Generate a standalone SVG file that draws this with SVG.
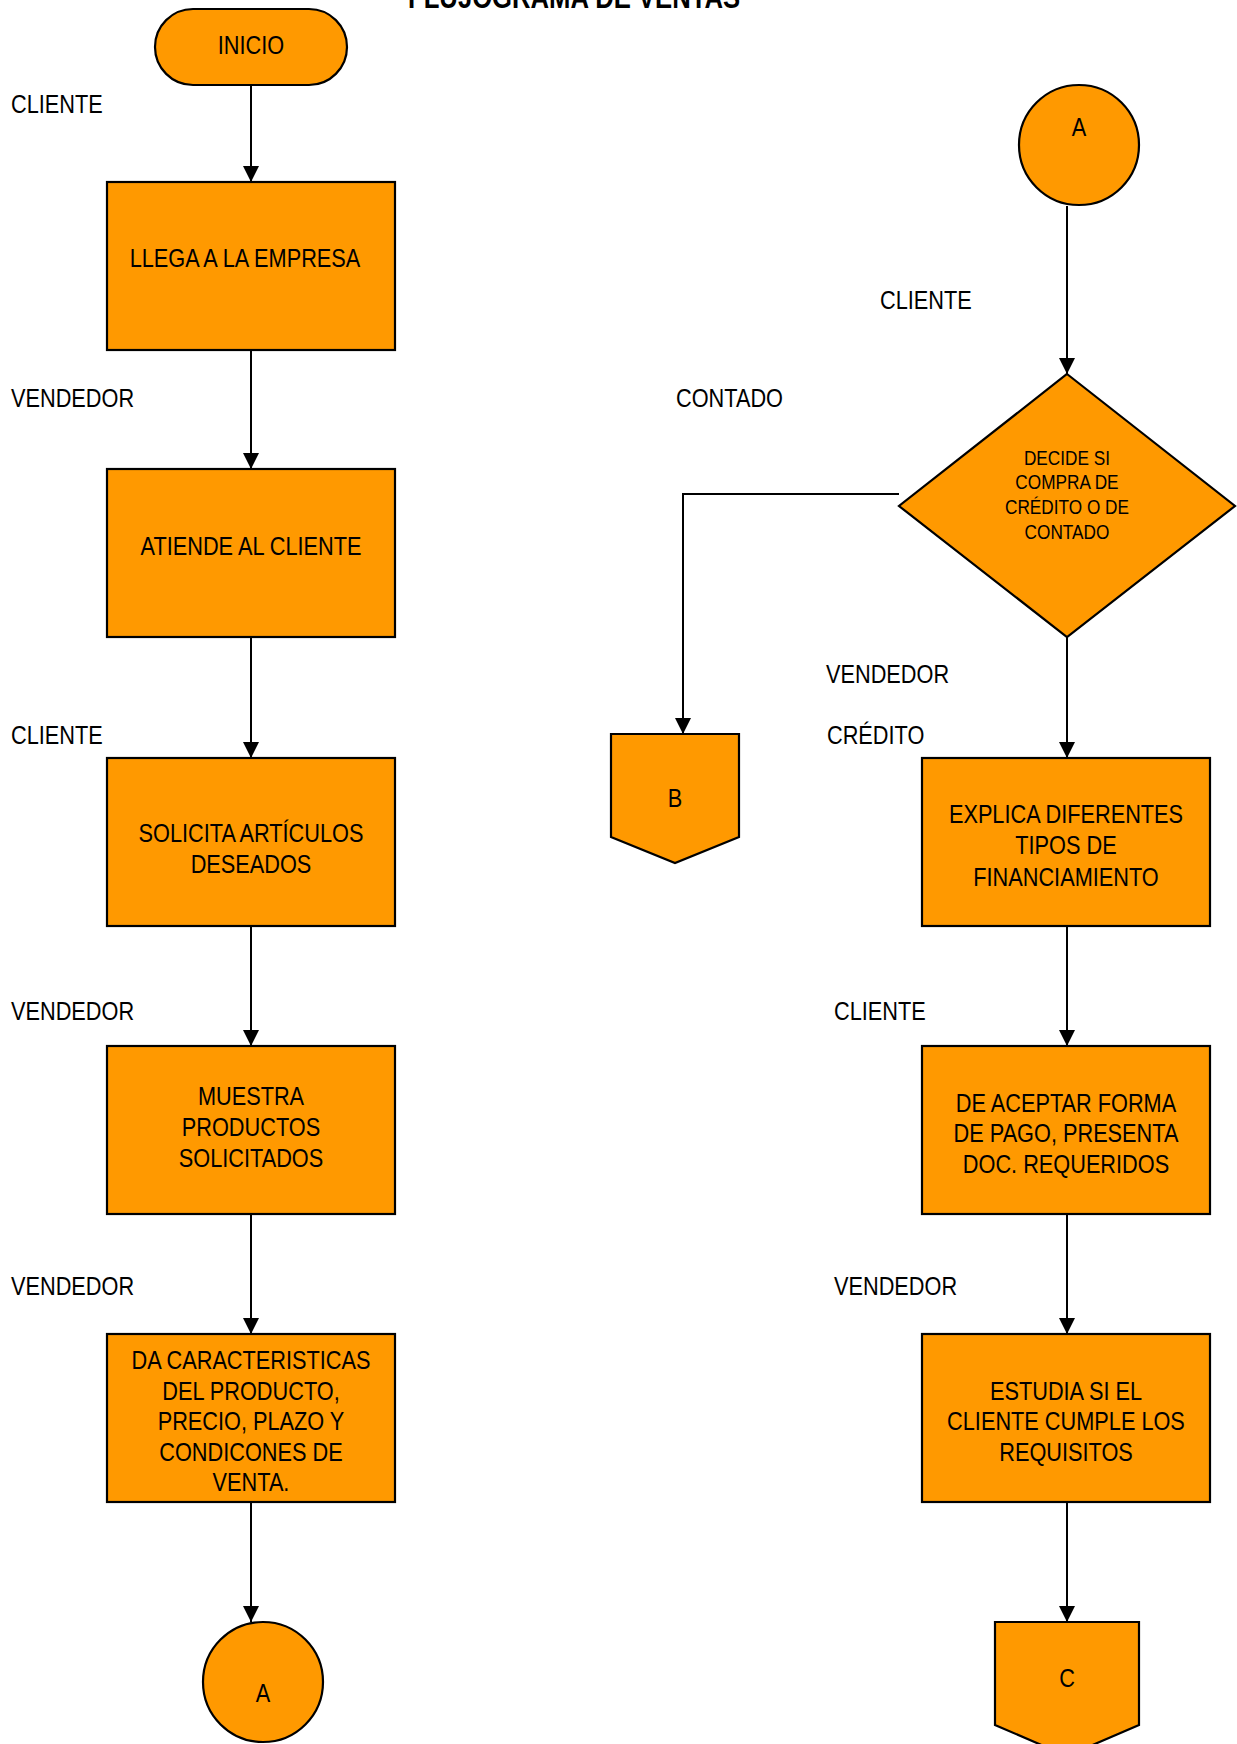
<svg xmlns="http://www.w3.org/2000/svg" width="1237" height="1744" viewBox="0 0 1237 1744">
  <style>
    .shape { fill: #FF9900; stroke: #000; stroke-width: 2.2; }
    .conn { fill: none; stroke: #000; stroke-width: 2; }
    /* condensed lettering: glyphs are squeezed to 82% width, so x positions are given in the squeezed space (x / 0.82) */
    text { font-family: "Liberation Sans Narrow", "Liberation Sans", Arial, sans-serif; fill: #000; transform: scale(0.82, 1); transform-origin: 0 0; transform-box: view-box; }
    .t { font-size: 26.5px; text-anchor: middle; }
    .ts { font-size: 21px; text-anchor: middle; }
    .lbl { font-size: 26.5px; }
    .title { font-size: 31.3px; font-weight: bold; }
  </style>
  <defs>
    <marker id="arrow" markerUnits="userSpaceOnUse" markerWidth="16" markerHeight="16" refX="16" refY="8" orient="auto">
      <path d="M0,0 L16,8 L0,16 z" fill="#000"/>
    </marker>
  </defs>

  <rect width="1237" height="1744" fill="#fff"/>

  <text class="title" x="497.6" y="8">FLUJOGRAMA DE VENTAS</text>

  <!-- role labels -->
  <g id="labels">
    <text class="lbl" x="13.4" y="113">CLIENTE</text>
    <text class="lbl" x="13.4" y="407">VENDEDOR</text>
    <text class="lbl" x="13.4" y="744">CLIENTE</text>
    <text class="lbl" x="13.4" y="1020">VENDEDOR</text>
    <text class="lbl" x="13.4" y="1295">VENDEDOR</text>
    <text class="lbl" x="1073.2" y="309">CLIENTE</text>
    <text class="lbl" x="824.4" y="407">CONTADO</text>
    <text class="lbl" x="1007.3" y="683">VENDEDOR</text>
    <text class="lbl" x="1008.5" y="744">CRÉDITO</text>
    <text class="lbl" x="1017.1" y="1020">CLIENTE</text>
    <text class="lbl" x="1017.1" y="1295">VENDEDOR</text>
  </g>

  <!-- connectors -->
  <g id="connectors">
    <line class="conn" x1="251" y1="85" x2="251" y2="182" marker-end="url(#arrow)"/>
    <line class="conn" x1="251" y1="350" x2="251" y2="469" marker-end="url(#arrow)"/>
    <line class="conn" x1="251" y1="637" x2="251" y2="758" marker-end="url(#arrow)"/>
    <line class="conn" x1="251" y1="926" x2="251" y2="1046" marker-end="url(#arrow)"/>
    <line class="conn" x1="251" y1="1214" x2="251" y2="1334" marker-end="url(#arrow)"/>
    <line class="conn" x1="251" y1="1502" x2="251" y2="1622" marker-end="url(#arrow)"/>
    <line class="conn" x1="1067" y1="206" x2="1067" y2="374" marker-end="url(#arrow)"/>
    <polyline class="conn" points="899,494 683,494 683,734" marker-end="url(#arrow)"/>
    <line class="conn" x1="1067" y1="637" x2="1067" y2="758" marker-end="url(#arrow)"/>
    <line class="conn" x1="1067" y1="926" x2="1067" y2="1046" marker-end="url(#arrow)"/>
    <line class="conn" x1="1067" y1="1214" x2="1067" y2="1334" marker-end="url(#arrow)"/>
    <line class="conn" x1="1067" y1="1502" x2="1067" y2="1622" marker-end="url(#arrow)"/>
  </g>

  <!-- left column -->
  <g id="inicio">
    <rect class="shape" x="155" y="9" width="192" height="76" rx="38" ry="38"/>
    <text class="t" x="306.1" y="54">INICIO</text>
  </g>
  <g id="llega">
    <rect class="shape" x="107" y="182" width="288" height="168"/>
    <text class="t" x="298.8" y="267">LLEGA A LA EMPRESA</text>
  </g>
  <g id="atiende">
    <rect class="shape" x="107" y="469" width="288" height="168"/>
    <text class="t" x="306.1" y="555">ATIENDE AL CLIENTE</text>
  </g>
  <g id="solicita">
    <rect class="shape" x="107" y="758" width="288" height="168"/>
    <text class="t" x="306.1" y="842">SOLICITA ARTÍCULOS</text>
    <text class="t" x="306.1" y="873">DESEADOS</text>
  </g>
  <g id="muestra">
    <rect class="shape" x="107" y="1046" width="288" height="168"/>
    <text class="t" x="306.1" y="1105">MUESTRA</text>
    <text class="t" x="306.1" y="1136">PRODUCTOS</text>
    <text class="t" x="306.1" y="1167">SOLICITADOS</text>
  </g>
  <g id="caracteristicas">
    <rect class="shape" x="107" y="1334" width="288" height="168"/>
    <text class="t" x="306.1" y="1369">DA CARACTERISTICAS</text>
    <text class="t" x="306.1" y="1400">DEL PRODUCTO,</text>
    <text class="t" x="306.1" y="1430">PRECIO, PLAZO Y</text>
    <text class="t" x="306.1" y="1461">CONDICONES DE</text>
    <text class="t" x="306.1" y="1491">VENTA.</text>
  </g>
  <g id="conector-a-salida">
    <circle class="shape" cx="263" cy="1682" r="60"/>
    <text class="t" x="320.7" y="1702">A</text>
  </g>

  <!-- right column -->
  <g id="conector-a-entrada">
    <circle class="shape" cx="1079" cy="145" r="60"/>
    <text class="t" x="1315.9" y="136">A</text>
  </g>
  <g id="decide">
    <polygon class="shape" points="1067,374 1235,506 1067,637 899,506"/>
    <text class="ts" x="1301.2" y="465">DECIDE SI</text>
    <text class="ts" x="1301.2" y="489">COMPRA DE</text>
    <text class="ts" x="1301.2" y="514">CRÉDITO O DE</text>
    <text class="ts" x="1301.2" y="539">CONTADO</text>
  </g>
  <g id="conector-b">
    <polygon class="shape" points="611,734 739,734 739,837 675,863 611,837"/>
    <text class="t" x="823.2" y="807">B</text>
  </g>
  <g id="explica">
    <rect class="shape" x="922" y="758" width="288" height="168"/>
    <text class="t" x="1300" y="823">EXPLICA DIFERENTES</text>
    <text class="t" x="1300" y="854">TIPOS DE</text>
    <text class="t" x="1300" y="886">FINANCIAMIENTO</text>
  </g>
  <g id="acepta">
    <rect class="shape" x="922" y="1046" width="288" height="168"/>
    <text class="t" x="1300" y="1112">DE ACEPTAR FORMA</text>
    <text class="t" x="1300" y="1142">DE PAGO, PRESENTA</text>
    <text class="t" x="1300" y="1173">DOC. REQUERIDOS</text>
  </g>
  <g id="estudia">
    <rect class="shape" x="922" y="1334" width="288" height="168"/>
    <text class="t" x="1300" y="1400">ESTUDIA SI EL</text>
    <text class="t" x="1300" y="1430">CLIENTE CUMPLE LOS</text>
    <text class="t" x="1300" y="1461">REQUISITOS</text>
  </g>
  <g id="conector-c">
    <polygon class="shape" points="995,1622 1139,1622 1139,1725 1067,1756 995,1725"/>
    <text class="t" x="1301.2" y="1687">C</text>
  </g>
</svg>
